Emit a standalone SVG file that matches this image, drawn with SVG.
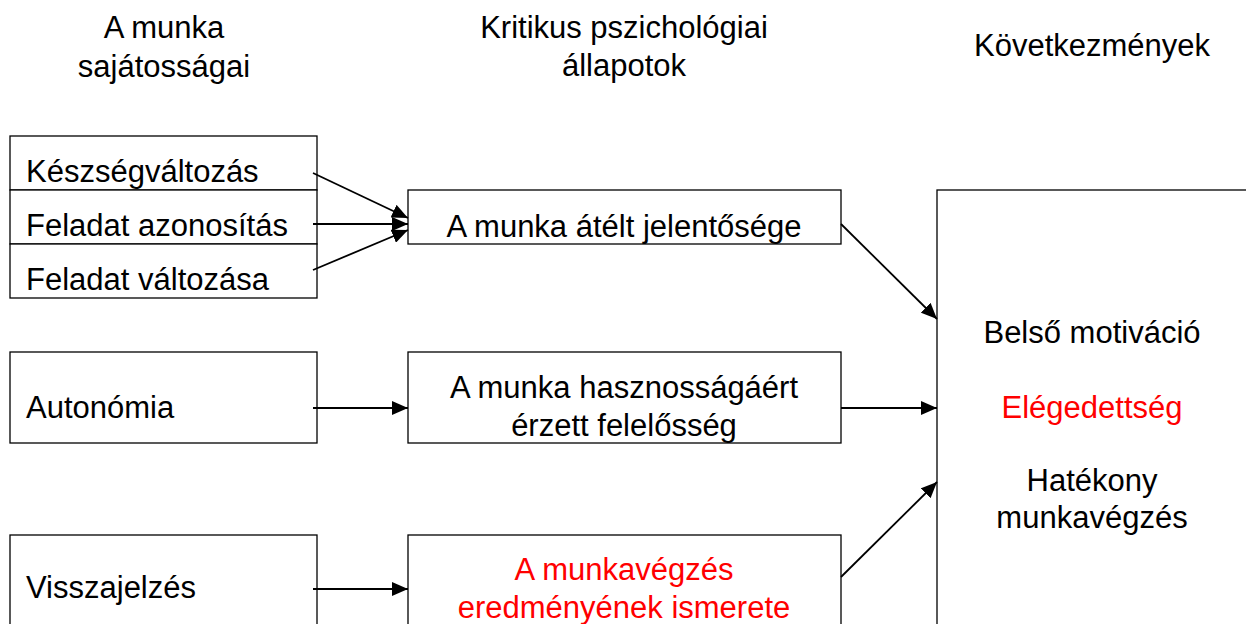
<svg xmlns="http://www.w3.org/2000/svg" width="1246" height="624" viewBox="0 0 1246 624">
<style>
text{font-family:"Liberation Sans",Arial,sans-serif;font-size:31px;fill:#000}
.c{text-anchor:middle}
.red{fill:#ff0000}
.box{fill:#fff;stroke:#000;stroke-width:1.3}
.conn line{stroke:#000;stroke-width:1.8;marker-end:url(#ah)}
</style>
<defs>
<marker id="ah" markerUnits="userSpaceOnUse" markerWidth="18" markerHeight="14" refX="16" refY="7" orient="auto">
<path d="M0,0 L16,7 L0,14 Z" fill="#000"/>
</marker>
</defs>
<rect width="1246" height="624" fill="#fff"/>
<g id="headers">
<text class="c" x="164" y="38">A munka</text>
<text class="c" x="164" y="77">sajátosságai</text>
<text class="c" x="624" y="38">Kritikus pszichológiai</text>
<text class="c" x="624" y="76">állapotok</text>
<text class="c" x="1092" y="56">Következmények</text>
</g>
<g id="n-keszseg"><rect class="box" x="10" y="136" width="307" height="54"/><text x="26" y="182">Készségváltozás</text></g>
<g id="n-azonositas"><rect class="box" x="10" y="190" width="307" height="54"/><text x="26" y="236">Feladat azonosítás</text></g>
<g id="n-valtozasa"><rect class="box" x="10" y="244" width="307" height="54"/><text x="26" y="290">Feladat változása</text></g>
<g id="n-autonomia"><rect class="box" x="10" y="352" width="307" height="91"/><text x="26" y="418">Autonómia</text></g>
<g id="n-visszajelzes"><rect class="box" x="10" y="535" width="307" height="110"/><text x="26" y="598">Visszajelzés</text></g>
<g id="n-jelentoseg"><rect class="box" x="408" y="190" width="433" height="54"/><text class="c" x="624" y="237">A munka átélt jelentősége</text></g>
<g id="n-felelosseg"><rect class="box" x="408" y="352" width="433" height="91"/><text class="c" x="624" y="398">A munka hasznosságáért</text><text class="c" x="624" y="436">érzett felelősség</text></g>
<g id="n-ismerete"><rect class="box" x="408" y="535" width="433" height="110"/><text class="c red" x="624" y="580">A munkavégzés</text><text class="c red" x="624" y="618">eredményének ismerete</text></g>
<g id="n-kovetkezmenyek"><rect class="box" x="937" y="190" width="330" height="460"/>
<text class="c" x="1092" y="343">Belső motiváció</text>
<text class="c red" x="1092" y="418">Elégedettség</text>
<text class="c" x="1092" y="491">Hatékony</text>
<text class="c" x="1092" y="528">munkavégzés</text>
</g>
<g id="connectors" class="conn">
<line x1="313" y1="173" x2="408" y2="218"/>
<line x1="313" y1="224" x2="408" y2="224"/>
<line x1="313" y1="270" x2="408" y2="230"/>
<line x1="841" y1="224" x2="937" y2="319"/>
<line x1="313" y1="408" x2="408" y2="408"/>
<line x1="841" y1="408" x2="937" y2="408"/>
<line x1="841" y1="577" x2="937" y2="482"/>
<line x1="313" y1="589" x2="408" y2="589"/>
</g>
</svg>
